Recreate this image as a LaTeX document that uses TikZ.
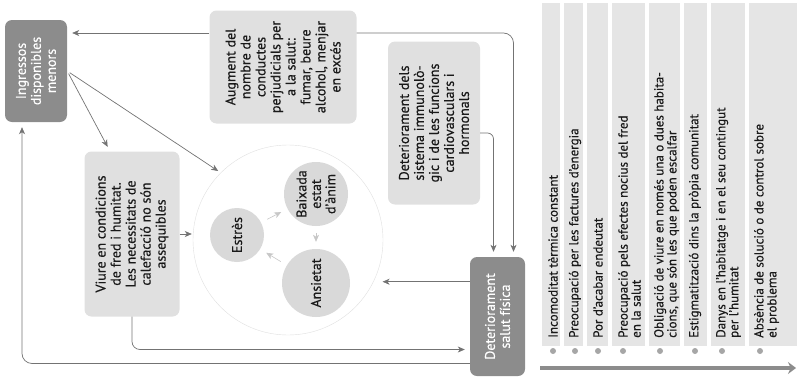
\documentclass[tikz,border=0pt]{standalone}
\usepackage{fontspec}
\setmainfont{PT Sans}[FakeBold=0.4]
\usetikzlibrary{arrows.meta}
\tikzset{
	>={Stealth[length=7pt,width=6pt,inset=2pt]},
	link/.style={draw=black!55, line width=0.7pt},
	arr/.style={link, ->, shorten >=5pt},
	faint/.style={draw=black!22, line width=0.6pt, ->, shorten <=7pt, shorten >=7pt},
	darkbox/.style={rounded corners=7pt, fill=black!45, text=white, rotate=90, align=center, inner sep=3pt, font=\fontsize{14}{15}\selectfont},
	lightbox/.style={rounded corners=7pt, fill=black!12, text=black!90, rotate=90, align=center, inner sep=3pt, font=\fontsize{14}{15}\selectfont},
	mood/.style={circle, fill=black!15, text=black!90, rotate=90, align=center, inner sep=0pt, font=\fontsize{14}{14.5}\selectfont},
	band/.style={fill=black!10},
	item/.style={rotate=90, anchor=west, align=left, inner sep=0pt, text=black!90, font=\fontsize{13}{13}\selectfont},
	dot/.style={fill=black!35}
}
\begin{document}
\begin{tikzpicture}[x=1pt,y=-1pt]
	\useasboundingbox (0,0) rectangle (797,383);
	\coordinate (top) at (0,33);
	% cycle in the middle
	\node[circle, draw=black!12, fill=white, minimum size=190pt, inner sep=0pt] (cyc) at (288,240) {};
	\node[mood, minimum size=54pt] (estr) at (237,235) {Estrès};
	\node[mood, minimum size=64pt] (baix) at (316,194) {Baixada\\estat\\d'ànim};
	\node[mood, minimum size=68pt] (ansi) at (316,283) {Ansietat};
	\draw[faint] (estr) -- (baix);
	\draw[faint] (baix) -- (ansi);
	\draw[faint] (ansi) -- (estr);
	% boxes
	\node[darkbox, minimum width=102pt, minimum height=62pt] (ingr) at (36,71) {Ingressos\\disponibles\\menors};
	\node[lightbox, minimum width=165pt, minimum height=95pt] (viure) at (132,234) {Viure en condicions\\de fred i humitat.\\Les necessitats de\\calefacció no són\\assequibles};
	\node[lightbox, minimum width=113pt, minimum height=147pt] (augm) at (283,67) {Augment del\\nombre de\\conductes\\perjudicials per\\a la salut:\\fumar, beure\\alcohol, menjar\\en excés};
	\node[lightbox, minimum width=163pt, minimum height=92pt] (detsis) at (434,123) {Deteriorament dels\\sistema immunolò-\\gic i de les funcions\\cardiovasculars i\\hormonals};
	\node[darkbox, minimum width=119pt, minimum height=55pt] (detfis) at (497.5,316.5) {Deteriorament\\salut física};
	% connectors
	\draw[arr] (top -| augm.north) -- (top -| ingr.south);
	\draw[arr, rounded corners=10pt] (top -| augm.south) -| ([xshift=16pt]detfis.east);
	\draw[arr, rounded corners=6pt] ([yshift=-10pt]detsis.south) -| ([xshift=-4pt]detfis.east);
	\draw[arr, shorten <=3pt] (ingr.south) -- ([xshift=-22pt]viure.east);
	\draw[arr, shorten <=3pt, shorten >=3pt] (ingr.south) -- (cyc.135);
	\draw[arr, shorten >=1pt] (viure.south) -- (viure.south -| cyc.west);
	\draw[arr, shorten >=9pt] (detfis.north |- cyc.-26) -- (cyc.-26);
	\draw[arr, rounded corners=8pt] (viure.west) |- ([yshift=-33pt]detfis.north);
	\draw[arr, rounded corners=10pt] ([yshift=-47pt]detfis.north) -| ([xshift=-14pt]ingr.west);
	% list on the right
	\foreach \a/\b/\p/\c/\t [count=\i] in {
		542/560/553/553/{Incomoditat tèrmica constant},
		564/583/575/575/{Preocupació per les factures d'energia},
		587/608/598/598/{Por d'acabar endeutat},
		612/645/623/629.5/{Preocupació pels efectes nocius del fred\\en la salut},
		649/680/660/666.5/{Obligació de viure en només una o dues habita-\\cions, que són les que poden escalfar},
		684/707/695/695/{Estigmatització dins la pròpia comunitat},
		711/745/722/728.5/{Danys en l'habitatge i en el seu contingut\\per l'humitat},
		749/797/760/766.5/{Absència de solució o de control sobre\\el problema}} {
		\fill[band] (\a,3) rectangle (\b,346);
		\node[item] (it\i) at (\c,338) {\t};
		\fill[dot] (\p,351) circle (3);
	}
	\coordinate (axL) at (540,368);
	\coordinate (axR) at (796,368);
	\draw[black!45, line width=3.5pt, -{Stealth[length=8pt,width=12pt]}] (axL) -- (axR);
\end{tikzpicture}
\end{document}
